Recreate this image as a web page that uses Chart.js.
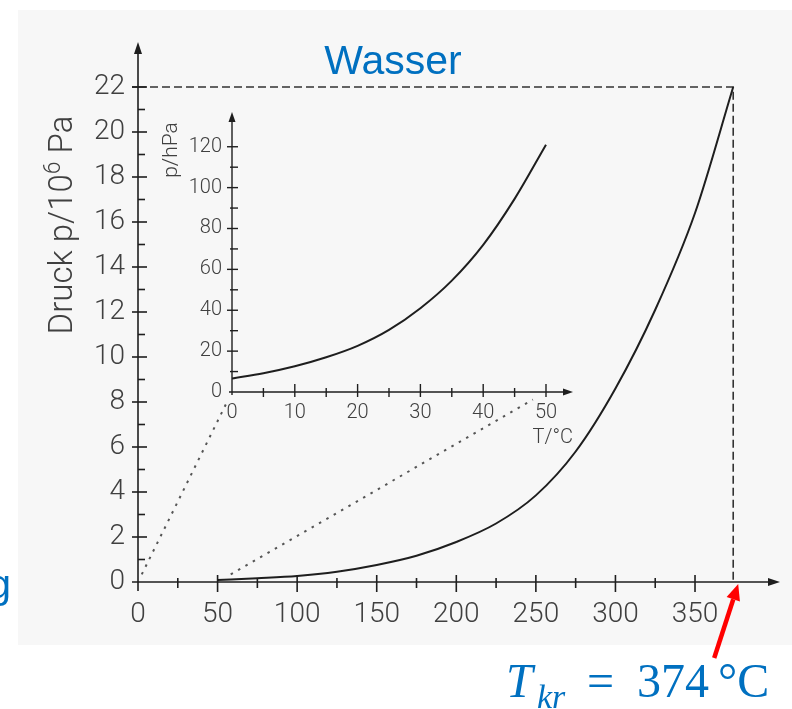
<!DOCTYPE html>
<html>
<head>
<meta charset="utf-8">
<title>Dampfdruckkurve von Wasser</title>
<script src="https://cdn.jsdelivr.net/npm/chart.js@4.4.1/dist/chart.umd.min.js"></script>
<style>
  html, body { margin: 0; padding: 0; background: #fff; }
  #stage { position: relative; width: 792px; height: 709px; overflow: hidden; }
  #main { position: absolute; left: 0; top: 0; }
  #inset { position: absolute; left: 150px; top: 90px; }
</style>
</head>
<body>
<div id="stage">
  <canvas id="main" width="792" height="709"></canvas>
  <canvas id="inset" width="440" height="380"></canvas>
</div>
<script>
// Vapour pressure of water over the full range (T in °C, p in 10^6 Pa)
const mainT = [50, 75, 100, 125, 150, 175, 200, 225, 250, 275, 300, 325, 350, 374];
const mainP = [0.09, 0.17, 0.27, 0.46, 0.76, 1.17, 1.78, 2.6, 3.85, 5.8, 8.6, 12.1, 16.4, 22.0];

// Low-temperature detail (T in °C, p in hPa)
const insetT = [0, 5, 10, 15, 20, 25, 30, 35, 40, 45, 50];
const insetP = [6.6, 9.2, 12.6, 17.0, 22.6, 30.4, 41, 54.5, 72, 94.5, 121];

// Critical point
const critT = 374;
const critP = 22;

// Temperature span of the main axis that the detail plot enlarges
const zoomFrom = 0;
const zoomTo = 50;

// Tick values
const mainXTicks = [0, 50, 100, 150, 200, 250, 300, 350];
const mainXMinor = [25, 75, 125, 175, 225, 275, 325];
const mainYTicks = [0, 2, 4, 6, 8, 10, 12, 14, 16, 18, 20, 22];
const mainYMinor = [1, 3, 5, 7, 9, 11, 13, 15, 17, 19, 21];
const insetXTicks = [0, 10, 20, 30, 40, 50];
const insetXMinor = [5, 15, 25, 35, 45];
const insetYTicks = [0, 20, 40, 60, 80, 100, 120];
const insetYMinor = [10, 30, 50, 70, 90, 110];

// Axis ranges (the axis arrows end at the maxima)
const mainXMax = 403.4, mainYMax = 24;
const insetXMax = 54.3, insetYMax = 137;

const INK = '#1e1e1e';
const LABEL = '#404040';
const BLUE = '#0070C0';
const TICK_FONT = '"Roboto", "Liberation Sans", sans-serif';
const INSET_LEFT = 150, INSET_TOP = 90;

function seg(ctx, x1, y1, x2, y2) {
  ctx.beginPath(); ctx.moveTo(x1, y1); ctx.lineTo(x2, y2); ctx.stroke();
}
function arrowHead(ctx, x, y, dir, len, half) {
  // dir: 'up' or 'right'
  ctx.beginPath();
  if (dir === 'up') {
    ctx.moveTo(x, y); ctx.lineTo(x - half, y + len); ctx.lineTo(x + half, y + len);
  } else {
    ctx.moveTo(x, y); ctx.lineTo(x - len, y - half); ctx.lineTo(x - len, y + half);
  }
  ctx.closePath(); ctx.fill();
}
function fixedTicks(values) {
  return scale => { scale.ticks = values.map(v => ({ value: v })); };
}

// Axes with arrows and crossing tick marks for the detail plot
const insetAxes = {
  id: 'insetAxes',
  afterDatasetsDraw(chart) {
    const { ctx, scales: { x, y } } = chart;
    const x0 = x.getPixelForValue(0), y0 = y.getPixelForValue(0);
    ctx.save();
    ctx.strokeStyle = INK; ctx.fillStyle = INK; ctx.lineWidth = 1.4;
    seg(ctx, x0 - 3, y0, x.right - 6, y0);
    seg(ctx, x0, y0 + 3, x0, y.top + 6);
    arrowHead(ctx, x.right, y0, 'right', 10, 3.5);
    arrowHead(ctx, x0, y.top, 'up', 10, 3.5);
    insetXTicks.forEach(v => { if (v === 0) return; const p = x.getPixelForValue(v); seg(ctx, p, y0 - 8, p, y0 + 5); });
    insetXMinor.forEach(v => { const p = x.getPixelForValue(v); seg(ctx, p, y0 - 4, p, y0 + 5); });
    insetYTicks.forEach(v => { if (v === 0) return; const p = y.getPixelForValue(v); seg(ctx, x0 - 5, p, x0 + 6, p); });
    insetYMinor.forEach(v => { const p = y.getPixelForValue(v); seg(ctx, x0 - 2, p, x0 + 6, p); });

    ctx.fillStyle = LABEL;
    ctx.font = '300 20px ' + TICK_FONT;
    ctx.textAlign = 'right'; ctx.textBaseline = 'alphabetic';
    ctx.fillText('T/°C', x.right, y0 + 51);
    ctx.save();
    ctx.translate(x0 - 55, y.top + 38);
    ctx.rotate(-Math.PI / 2);
    ctx.textAlign = 'center';
    ctx.font = '300 21px ' + TICK_FONT;
    ctx.fillText('p/hPa', 0, 0);
    ctx.restore();
    ctx.restore();
  }
};

const insetChart = new Chart(document.getElementById('inset'), {
  type: 'line',
  data: {
    datasets: [{
      data: insetT.map((t, i) => ({ x: t, y: insetP[i] })),
      borderColor: INK, borderWidth: 2, pointRadius: 0,
      cubicInterpolationMode: 'monotone', fill: false
    }]
  },
  options: {
    responsive: false, animation: false, events: [],
    layout: { padding: { left: 0, top: 17, right: 17, bottom: 0 } },
    plugins: { legend: { display: false }, tooltip: { enabled: false } },
    scales: {
      x: {
        type: 'linear', min: 0, max: insetXMax,
        afterBuildTicks: fixedTicks(insetXTicks),
        afterFit: s => { s.height = 78; },
        grid: { display: false, drawTicks: false }, border: { display: false },
        ticks: { font: { family: TICK_FONT, size: 20, weight: 300 }, color: LABEL, padding: 9, maxRotation: 0, autoSkip: false }
      },
      y: {
        type: 'linear', min: 0, max: insetYMax,
        afterBuildTicks: fixedTicks(insetYTicks),
        afterFit: s => { s.width = 82; },
        grid: { display: false, drawTicks: false }, border: { display: false },
        ticks: { font: { family: TICK_FONT, size: 20, weight: 300 }, color: LABEL, padding: 10, autoSkip: false }
      }
    }
  },
  plugins: [insetAxes]
});

// Page background, axes, zoom guides and annotations of the main plot
const mainDecor = {
  id: 'mainDecor',
  beforeDraw(chart) {
    const { ctx, width, height } = chart;
    ctx.save();
    ctx.fillStyle = '#ffffff';
    ctx.fillRect(0, 0, width, height);
    ctx.fillStyle = '#f7f7f7';
    ctx.fillRect(18, 10, width - 18, 635);
    ctx.restore();
  },
  afterDatasetsDraw(chart) {
    const { ctx, scales: { x, y } } = chart;
    const x0 = x.getPixelForValue(0), y0 = y.getPixelForValue(0);
    ctx.save();

    // guides from the enlarged temperature span to the detail plot's axis
    const ix = insetChart.scales.x, iy = insetChart.scales.y;
    ctx.strokeStyle = '#555'; ctx.lineWidth = 2; ctx.setLineDash([2.5, 6]);
    [zoomFrom, zoomTo].forEach(t => {
      const ax = x.getPixelForValue(t), ay = y.getPixelForValue(0);
      const bx = INSET_LEFT + ix.getPixelForValue(t), by = INSET_TOP + iy.getPixelForValue(0);
      const s = 0.04, e = 0.96;
      seg(ctx, ax + (bx - ax) * s, ay + (by - ay) * s, ax + (bx - ax) * e, ay + (by - ay) * e);
    });
    ctx.setLineDash([]);

    // critical pressure guide reaches across the y axis tick
    ctx.strokeStyle = '#333'; ctx.lineWidth = 1.6;
    seg(ctx, x0 - 6, y.getPixelForValue(critP), x0, y.getPixelForValue(critP));

    // axes
    ctx.strokeStyle = INK; ctx.fillStyle = INK; ctx.lineWidth = 1.6;
    seg(ctx, x0 - 6, y0, x.right - 8, y0);
    seg(ctx, x0, y0 + 9, x0, y.top + 8);
    arrowHead(ctx, x.right, y0, 'right', 12, 4);
    arrowHead(ctx, x0, y.top, 'up', 12, 4);
    mainXTicks.forEach(v => { if (v === 0) return; const p = x.getPixelForValue(v); seg(ctx, p, y0 - 7, p, y0 + 10); });
    mainXMinor.forEach(v => { const p = x.getPixelForValue(v); seg(ctx, p, y0 - 4, p, y0 + 6); });
    mainYTicks.forEach(v => { if (v === 0) return; const p = y.getPixelForValue(v); seg(ctx, x0 - 6, p, x0 + 9, p); });
    mainYMinor.forEach(v => { const p = y.getPixelForValue(v); seg(ctx, x0, p, x0 + 7, p); });
    ctx.restore();
  },
  afterDraw(chart) {
    const { ctx, scales: { x, y } } = chart;
    ctx.save();

    // y axis title, rotated, with superscript exponent
    ctx.fillStyle = LABEL;
    const big = '300 33px ' + TICK_FONT, small = '300 23px ' + TICK_FONT;
    const parts = [['Druck p/10', big, 0], ['6', small, -12], [' Pa', big, 0]];
    let total = 0;
    parts.forEach(p => { ctx.font = p[1]; p.push(ctx.measureText(p[0]).width); total += p[3]; });
    ctx.translate(72, 225);
    ctx.rotate(-Math.PI / 2);
    ctx.textAlign = 'left'; ctx.textBaseline = 'alphabetic';
    let u = -total / 2;
    parts.forEach(p => { ctx.font = p[1]; ctx.fillText(p[0], u, p[2]); u += p[3]; });
    ctx.setTransform(1, 0, 0, 1, 0, 0);

    // title
    ctx.fillStyle = BLUE;
    ctx.font = '41px "Liberation Sans", Arial, sans-serif';
    ctx.textAlign = 'center';
    ctx.fillText('Wasser', 393, 74);
    ctx.textAlign = 'right';
    ctx.fillText('g', 11, 598);

    // critical temperature callout
    const cx = x.getPixelForValue(critT) + 5, cy = y.getPixelForValue(0) + 2;
    const sx = cx - 24, sy = cy + 74;
    ctx.strokeStyle = '#ff0000'; ctx.fillStyle = '#ff0000'; ctx.lineWidth = 4.5;
    const ang = Math.atan2(cy - sy, cx - sx);
    const len = 16, half = 7;
    const bx = cx - Math.cos(ang) * len, by = cy - Math.sin(ang) * len;
    seg(ctx, sx, sy, bx, by);
    ctx.beginPath();
    ctx.moveTo(cx, cy);
    ctx.lineTo(bx - Math.sin(ang) * half, by + Math.cos(ang) * half);
    ctx.lineTo(bx + Math.sin(ang) * half, by - Math.cos(ang) * half);
    ctx.closePath(); ctx.fill();

    ctx.fillStyle = BLUE;
    ctx.textAlign = 'left';
    const serif = '"Liberation Serif", "DejaVu Serif", serif';
    ctx.font = 'italic 48px ' + serif;
    ctx.fillText('T', 506, 697);
    ctx.font = 'italic 34px ' + serif;
    ctx.fillText('kr', 537, 708);
    ctx.font = '48px ' + serif;
    ctx.fillText('=', 587, 697);
    ctx.fillText(String(critT), 637, 697);
    ctx.fillText('°C', 718, 697);
    ctx.restore();
  }
};

new Chart(document.getElementById('main'), {
  type: 'line',
  data: {
    datasets: [
      {
        data: mainT.map((t, i) => ({ x: t, y: mainP[i] })),
        borderColor: INK, borderWidth: 2, pointRadius: 0,
        cubicInterpolationMode: 'monotone', fill: false
      },
      {
        data: [{ x: 0, y: critP }, { x: critT, y: critP }, { x: critT, y: 0 }],
        borderColor: '#333', borderWidth: 1.6, borderDash: [8, 4],
        pointRadius: 0, tension: 0, fill: false
      }
    ]
  },
  options: {
    responsive: false, animation: false, events: [],
    layout: { padding: { left: 0, top: 42, right: 12, bottom: 0 } },
    plugins: { legend: { display: false }, tooltip: { enabled: false } },
    scales: {
      x: {
        type: 'linear', min: 0, max: mainXMax,
        afterBuildTicks: fixedTicks(mainXTicks),
        afterFit: s => { s.height = 127; },
        grid: { display: false, drawTicks: false }, border: { display: false },
        ticks: { font: { family: TICK_FONT, size: 28, weight: 300 }, color: LABEL, padding: 16, maxRotation: 0, autoSkip: false }
      },
      y: {
        type: 'linear', min: 0, max: mainYMax,
        afterBuildTicks: fixedTicks(mainYTicks),
        afterFit: s => { s.width = 138; },
        grid: { display: false, drawTicks: false }, border: { display: false },
        ticks: { font: { family: TICK_FONT, size: 28, weight: 300 }, color: LABEL, padding: 13, autoSkip: false }
      }
    }
  },
  plugins: [mainDecor]
});
</script>
</body>
</html>
